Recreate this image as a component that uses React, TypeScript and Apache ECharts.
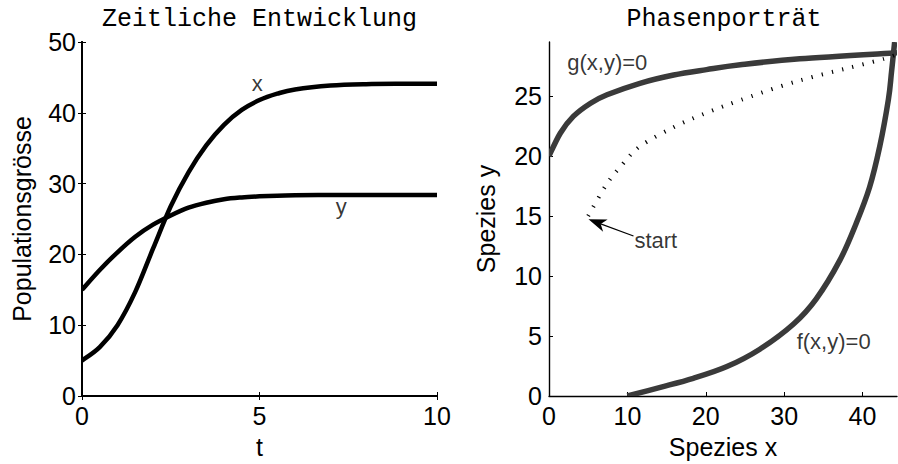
import React, { useEffect, useRef } from "react";
import * as echarts from "echarts";

// ---- Left panel: time evolution ----
const timeT = [0, 0.5, 1, 1.5, 2, 2.5, 3, 3.5, 4, 4.5, 5, 5.5, 6, 7, 8, 9, 10];
const popX = [5.0, 6.9, 10.0, 14.7, 20.8, 26.8, 31.6, 35.4, 38.3, 40.4, 41.8, 42.7, 43.3, 43.85, 44.05, 44.1, 44.1];
const popY = [15.0, 17.8, 20.3, 22.5, 24.2, 25.5, 26.6, 27.3, 27.8, 28.05, 28.2, 28.3, 28.35, 28.4, 28.4, 28.4, 28.4];

// ---- Right panel: phase portrait ----
const gNullX = [0, 1.44, 3.1, 5.3, 7.4, 11.6, 15.9, 20.1, 24.4, 32, 44.4];
const gNullY = [20, 21.9, 23.3, 24.4, 25.1, 26.06, 26.75, 27.2, 27.6, 28.1, 28.6];
const fNullX = [10, 14.2, 18.4, 22.7, 26.9, 31.2, 34.1, 37.1, 39.2, 40.9, 42.2, 43.3, 43.7, 44.1];
const fNullY = [0, 0.72, 1.47, 2.45, 3.9, 6.0, 8.1, 11.3, 14.4, 17.4, 20.8, 24.7, 27.0, 29.5];
const trajX = [5.0, 7.4, 9.5, 11.6, 15.9, 20.1, 24.4, 29.5, 33.7, 38.0, 42.2, 43.5, 44.1];
const trajY = [15.0, 17.7, 19.4, 20.8, 22.4, 23.6, 24.65, 25.8, 26.6, 27.3, 28.0, 28.25, 28.4];

// annotations
const arrowTail = [10.78, 13.33];
const arrowTip = [5.04, 14.72];

const FONT = "Liberation Sans, Arial, Helvetica, sans-serif";

// Smooth path (Catmull-Rom -> cubic Bezier) through the library-projected points
function smoothPath(pts: number[][]): string {
  if (!pts.length) return "";
  let d = `M${pts[0][0]},${pts[0][1]}`;
  for (let i = 0; i < pts.length - 1; i++) {
    const p0 = pts[Math.max(0, i - 1)];
    const p1 = pts[i];
    const p2 = pts[i + 1];
    const p3 = pts[Math.min(pts.length - 1, i + 2)];
    const c1 = [p1[0] + (p2[0] - p0[0]) / 6, p1[1] + (p2[1] - p0[1]) / 6];
    const c2 = [p2[0] - (p3[0] - p1[0]) / 6, p2[1] - (p3[1] - p1[1]) / 6];
    d += ` C${c1[0]},${c1[1]} ${c2[0]},${c2[1]} ${p2[0]},${p2[1]}`;
  }
  return d;
}

export default function App() {
  const ref = useRef<HTMLDivElement>(null);
  useEffect(() => {
    const chart = echarts.init(ref.current!, null, { renderer: "svg" });
    const axisLineL = { show: true, lineStyle: { color: "#000", width: 2 } };
    const axisLineR = { show: true, lineStyle: { color: "#000", width: 1.4 } };
    const tick = { show: true, inside: true, length: 4, lineStyle: { color: "#000", width: 1 } };
    const lbl = { color: "#000", fontSize: 25, fontFamily: FONT };
    const nameStyle = { color: "#000", fontSize: 25, fontFamily: FONT };
    const annot = (gi: number, pos: number[], text: string, align: string) => ({
      type: "scatter",
      xAxisIndex: gi === 0 ? 0 : 2,
      yAxisIndex: gi === 0 ? 0 : 2,
      data: [pos],
      symbolSize: 1,
      itemStyle: { color: "rgba(0,0,0,0)" },
      silent: true,
      z: 10,
      label: {
        show: true,
        formatter: text,
        position: "inside",
        align,
        verticalAlign: "middle",
        color: "#000",
        fontSize: 22,
        fontFamily: FONT,
      },
    });
    const curve = (
      name: string,
      ai: number,
      xs: number[],
      ys: number[],
      style: any
    ) => ({
      name,
      type: "custom",
      xAxisIndex: ai,
      yAxisIndex: ai,
      clip: true,
      silent: true,
      data: [[xs[0], ys[0]]],
      renderItem: (params: any, api: any) => {
        if (params.dataIndex !== 0) return null;
        const pts = xs.map((x, i) => api.coord([x, ys[i]]));
        return {
          type: "path",
          shape: { pathData: smoothPath(pts) },
          style: { fill: "none", ...style },
        };
      },
    });
    const option: any = {
      animation: false,
      backgroundColor: "#fff",
      textStyle: { fontFamily: FONT },
      grid: [
        { left: 82, top: 42, width: 355, height: 354 },
        { left: 549, top: 42, width: 348, height: 354 },
      ],
      xAxis: [
        {
          type: "value", gridIndex: 0, min: 0, max: 10, interval: 5, position: "bottom",
          axisLine: axisLineL, axisTick: tick, splitLine: { show: false },
          axisLabel: { ...lbl, margin: 7 },
          name: "t", nameLocation: "middle", nameGap: 38, nameTextStyle: nameStyle,
        },
        {
          type: "value", gridIndex: 0, min: 0, max: 10, interval: 5, position: "top",
          axisLine: axisLineL, axisTick: tick, splitLine: { show: false },
          axisLabel: { show: false },
        },
        {
          type: "value", gridIndex: 1, min: 0, max: 44.4, interval: 10, position: "bottom",
          axisLine: axisLineR, axisTick: tick, splitLine: { show: false },
          axisLabel: { ...lbl, margin: 7, showMaxLabel: false },
          name: "Spezies x", nameLocation: "middle", nameGap: 38, nameTextStyle: nameStyle,
        },
      ],
      yAxis: [
        {
          type: "value", gridIndex: 0, min: 0, max: 50, interval: 10, position: "left",
          axisLine: axisLineL, axisTick: tick, splitLine: { show: false },
          axisLabel: { ...lbl, margin: 6 },
          name: "Populationsgrösse", nameLocation: "middle", nameGap: 48, nameTextStyle: nameStyle,
        },
        {
          type: "value", gridIndex: 0, min: 0, max: 50, interval: 10, position: "right",
          axisLine: axisLineL, axisTick: tick, splitLine: { show: false },
          axisLabel: { show: false },
        },
        {
          type: "value", gridIndex: 1, min: 0, max: 29.5, interval: 5, position: "left",
          axisLine: axisLineR, axisTick: tick, splitLine: { show: false },
          axisLabel: { ...lbl, margin: 7, showMaxLabel: false },
          name: "Spezies y", nameLocation: "middle", nameGap: 51, nameTextStyle: nameStyle,
        },
      ],
      graphic: [
        {
          id: "t1", type: "text", x: 259.5, y: 19,
          style: { text: "Zeitliche Entwicklung", fontSize: 25, fontFamily: "Liberation Mono, Courier New, monospace", fill: "#000", align: "center", verticalAlign: "middle" },
        },
        {
          id: "t2", type: "text", x: 724, y: 19,
          style: { text: "Phasenporträt", fontSize: 25, fontFamily: "Liberation Mono, Courier New, monospace", fill: "#000", align: "center", verticalAlign: "middle" },
        },
      ],
      series: [
        curve("x", 0, timeT, popX, { stroke: "#000", lineWidth: 4.5 }),
        curve("y", 0, timeT, popY, { stroke: "#000", lineWidth: 4.5 }),
        curve("g", 2, gNullX, gNullY, { stroke: "#3a3a3a", lineWidth: 5.5 }),
        curve("f", 2, fNullX, fNullY, { stroke: "#3a3a3a", lineWidth: 5.5 }),
        curve("traj", 2, trajX, trajY, { stroke: "#000", lineWidth: 4, lineDash: [1.2, 9.3], lineCap: "butt" }),
        annot(0, [4.94, 44.1], "x", "center"),
        annot(0, [7.3, 26.7], "y", "center"),
        annot(1, [2.33, 27.77], "g(x,y)=0", "left"),
        annot(1, [31.6, 4.57], "f(x,y)=0", "left"),
        annot(1, [10.9, 12.94], "start", "left"),
      ],
    };
    chart.setOption(option);

    const P = chart.convertToPixel({ seriesIndex: 9 }, arrowTip) as number[];
    const T = chart.convertToPixel({ seriesIndex: 9 }, arrowTail) as number[];
    const dx = P[0] - T[0];
    const dy = P[1] - T[1];
    const len = Math.hypot(dx, dy) || 1;
    const ux = dx / len, uy = dy / len;
    const nx = -uy, ny = ux;
    const L = 18, W = 6.5, notch = 13;
    const B = [P[0] - ux * L, P[1] - uy * L];
    const N = [P[0] - ux * notch, P[1] - uy * notch];
    chart.setOption({
      graphic: [
        {
          id: "arrowShaft", type: "line",
          shape: { x1: T[0], y1: T[1], x2: N[0], y2: N[1] },
          style: { stroke: "#000", lineWidth: 1.2 }, z: 20,
        },
        {
          id: "arrowHead", type: "polygon",
          shape: { points: [P, [B[0] + nx * W, B[1] + ny * W], N, [B[0] - nx * W, B[1] - ny * W]] },
          style: { fill: "#000" }, z: 20,
        },
      ],
    });
    return () => chart.dispose();
  }, []);
  return (
    <div
      ref={ref}
      style={{ position: "fixed", left: 0, top: 0, width: 898, height: 464, background: "#fff" }}
    />
  );
}
